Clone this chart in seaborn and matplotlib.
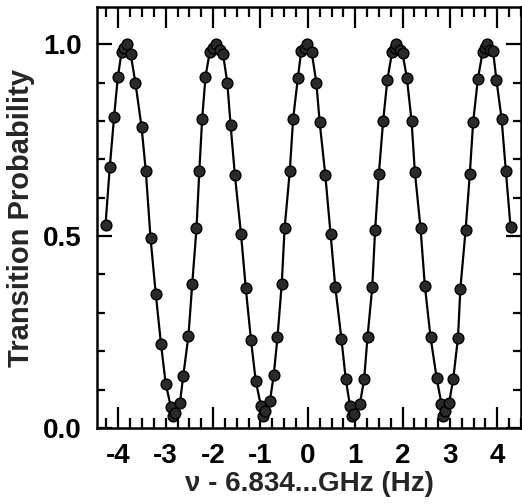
import matplotlib
matplotlib.use("Agg")
import matplotlib.pyplot as plt
import seaborn as sns
import pandas as pd
from matplotlib.ticker import MultipleLocator, FixedLocator

freq_hz = [-4.27, -4.18, -4.09, -4.01, -3.93, -3.87, -3.81, -3.74, -3.64, -3.51,
           -3.42, -3.32, -3.21, -3.10, -3.00, -2.89, -2.84, -2.81, -2.70, -2.63,
           -2.52, -2.44, -2.35, -2.29, -2.23, -2.16, -2.07, -2.00, -1.93, -1.86,
           -1.79, -1.70, -1.63, -1.54, -1.41, -1.31, -1.20, -1.10, -0.99, -0.95,
           -0.91, -0.80, -0.72, -0.64, -0.55, -0.49, -0.38, -0.31, -0.21, -0.14,
           -0.06, -0.01, 0.08, 0.18, 0.25, 0.37, 0.48, 0.58, 0.71, 0.80,
           0.89, 0.94, 0.98, 1.10, 1.19, 1.26, 1.36, 1.42, 1.50, 1.59,
           1.68, 1.78, 1.83, 1.87, 1.94, 2.00, 2.09, 2.19, 2.26, 2.38,
           2.47, 2.59, 2.72, 2.82, 2.86, 2.89, 2.98, 3.07, 3.17, 3.22,
           3.33, 3.42, 3.49, 3.59, 3.69, 3.74, 3.78, 3.84, 3.91, 3.98,
           4.09, 4.18, 4.28]
prob = [0.53, 0.68, 0.81, 0.915, 0.98, 0.99, 1.0, 0.975, 0.90, 0.785,
        0.67, 0.495, 0.35, 0.22, 0.115, 0.055, 0.03, 0.04, 0.065, 0.135,
        0.24, 0.375, 0.52, 0.67, 0.806, 0.915, 0.98, 0.99, 1.0, 0.985,
        0.975, 0.90, 0.79, 0.66, 0.505, 0.365, 0.23, 0.123, 0.058, 0.03,
        0.043, 0.07, 0.137, 0.237, 0.376, 0.52, 0.67, 0.806, 0.912, 0.982,
        0.99, 1.0, 0.98, 0.90, 0.797, 0.658, 0.506, 0.367, 0.232, 0.128,
        0.058, 0.03, 0.037, 0.063, 0.128, 0.237, 0.367, 0.515, 0.663, 0.80,
        0.908, 0.98, 0.99, 1.0, 0.985, 0.976, 0.913, 0.80, 0.667, 0.52,
        0.371, 0.237, 0.13, 0.063, 0.03, 0.045, 0.064, 0.128, 0.235, 0.363,
        0.515, 0.663, 0.797, 0.91, 0.98, 0.99, 1.0, 0.985, 0.983, 0.908,
        0.806, 0.67, 0.523]

x_tick_values = [-4, -3, -2, -1, 0, 1, 2, 3, 4]
x_tick_labels = ["-4", "-3", "-2", "-1", "0", "1", "2", "3", "4"]
y_tick_values = [0.0, 0.5, 1.0]
y_tick_labels = ["0.0", "0.5", "1.0"]

df = pd.DataFrame({"nu": freq_hz, "p": prob})

sns.set_theme(style="ticks")
plt.rcParams["font.family"] = ["Liberation Sans", "DejaVu Sans"]
plt.rcParams["axes.unicode_minus"] = False

fig = plt.figure(figsize=(5.22, 5.04), dpi=100)
ax = fig.add_axes([97/522, 1 - 428/504, (521 - 97)/522, (428 - 7)/504])

sns.lineplot(data=df, x="nu", y="p", ax=ax, color="black", linewidth=1.6,
             estimator=None, sort=True)
sns.scatterplot(data=df, x="nu", y="p", ax=ax, s=60, marker="o",
                color="#2a2a2a", edgecolor="black", linewidth=1.0, zorder=3)

ax.set_xlim(-4.45, 4.5)
ax.set_ylim(0.0, 1.097)

ax.xaxis.set_major_locator(FixedLocator(x_tick_values))
ax.set_xticklabels(x_tick_labels)
ax.xaxis.set_minor_locator(MultipleLocator(0.25))
ax.yaxis.set_major_locator(FixedLocator(y_tick_values))
ax.set_yticklabels(y_tick_labels)
ax.yaxis.set_minor_locator(MultipleLocator(0.1))

ax.tick_params(axis="both", which="both", direction="in", top=True, right=True,
               colors="black", width=1.6)
ax.tick_params(axis="x", which="major", length=15, pad=11, labelsize=20)
ax.tick_params(axis="x", which="minor", length=7)
ax.tick_params(axis="y", which="major", length=11, pad=11, labelsize=20)
ax.tick_params(axis="y", which="minor", length=6)

for lab in ax.get_xticklabels() + ax.get_yticklabels():
    lab.set_fontweight("bold")

# bottom long ticks only every 2 units, as in the reference
for val, tick in zip(x_tick_values, ax.xaxis.get_major_ticks()):
    if val % 2 != 0:
        tick.tick1line.set_markersize(7)

for sp in ax.spines.values():
    sp.set_linewidth(1.8)
    sp.set_color("black")

ax.set_xlabel("\u03bd - 6.834...GHz (Hz)", fontsize=20, fontweight="bold", labelpad=1)
ax.set_ylabel("Transition Probability", fontsize=21, fontweight="bold", labelpad=6)

fig.savefig("out.png", dpi=100)
